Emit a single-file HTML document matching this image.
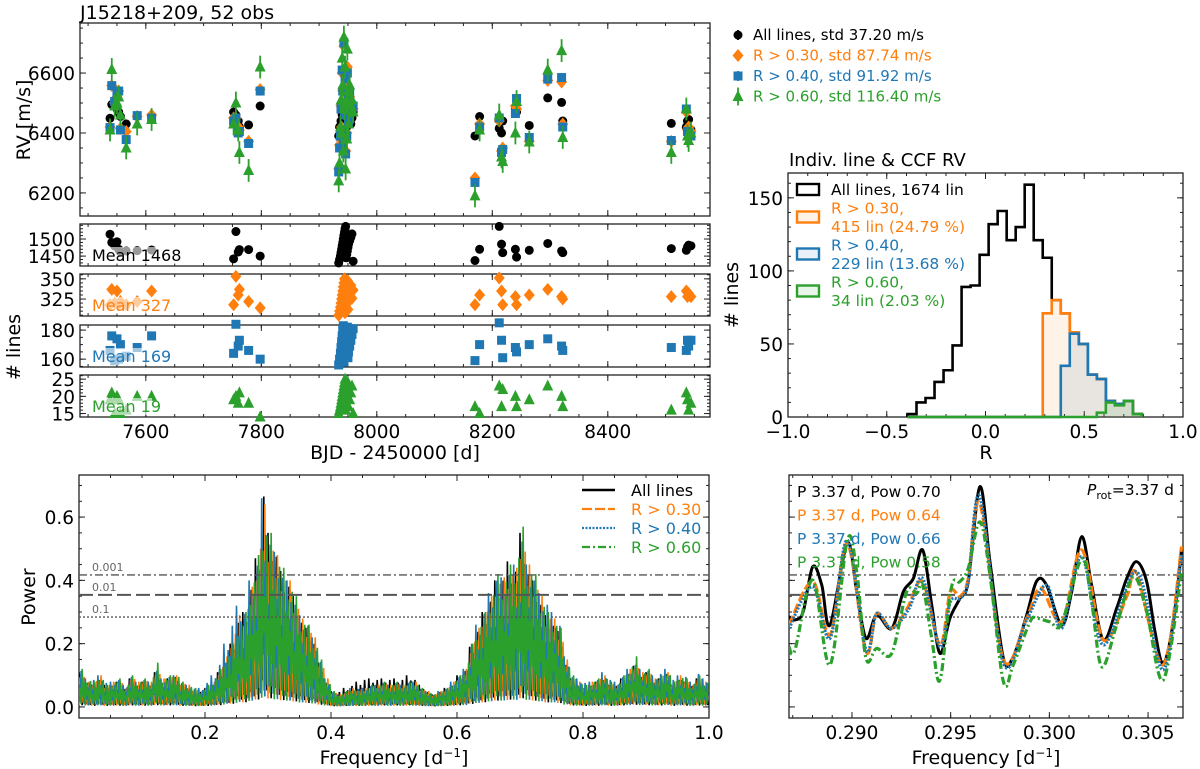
<!DOCTYPE html>
<html><head><meta charset="utf-8"><style>
html,body{margin:0;padding:0;background:#fff;}
svg{display:block;font-family:"DejaVu Sans","Liberation Sans",sans-serif;}
</style></head><body>
<svg id="fig" width="1200" height="769" viewBox="0 0 1200 769" xmlns="http://www.w3.org/2000/svg">
<defs>
<clipPath id="clipRV"><rect x="80" y="23" width="630" height="193"/></clipPath>
<clipPath id="clipPL"><rect x="79" y="475" width="630" height="243"/></clipPath>
<clipPath id="clipPR"><rect x="789" y="475" width="394" height="243"/></clipPath>
</defs>
<text x="80" y="19" font-size="19">J15218+209, 52 obs</text>
<text transform="translate(30,120) rotate(-90)" text-anchor="middle" font-size="19">RV [m/s]</text>
<text transform="translate(20,347) rotate(-90)" text-anchor="middle" font-size="19"># lines</text>
<text x="395" y="459" text-anchor="middle" font-size="19">BJD - 2450000 [d]</text>
<text x="789" y="166" font-size="18">Indiv. line &amp; CCF RV</text>
<text transform="translate(738,295) rotate(-90)" text-anchor="middle" font-size="19"># lines</text>
<text x="986" y="459" text-anchor="middle" font-size="19">R</text>
<text transform="translate(35,597) rotate(-90)" text-anchor="middle" font-size="19">Power</text>
<text x="394" y="764" text-anchor="middle" font-size="19">Frequency [d<tspan dy="-7" font-size="12">−1</tspan><tspan dy="7">]</tspan></text>
<text x="986" y="764" text-anchor="middle" font-size="19">Frequency [d<tspan dy="-7" font-size="12">−1</tspan><tspan dy="7">]</tspan></text>
</svg>
<script>
// ---------- RV data ----------
const obsTime=[7538,7541,7546,7550,7553,7556,7566,7585,7610,
7752,7756,7760,7762,7778,7798,
7934,7935.5,7937,7938,7939,7940,7941,7942,7943,7944,7945,7946,7947,7948,7949,7950,7951,7953,7955,7957,7959,
8170,8178,8212,8216,8218,8240,8242,8264,8296,8320,8322,
8510,8536,8538,8540,8544];
const rvAll=[6449,6495,6490,6480,6470,6455,6430,6455,6455,
6470,6460,6440,6420,6427,6490,
6390,6420,6380,6440,6400,6460,6490,6410,6430,6500,6450,6395,6470,6420,6440,6510,6460,6480,6430,6450,6470,
6390,6455,6415,6400,6440,6480,6470,6425,6517,6502,6440,
6432,6420,6440,6445,6410];
const rvR30=[6420,6558,6500,6520,6540,6415,6405,6455,6460,
6450,6450,6420,6410,6372,6545,
6280,6360,6380,6490,6420,6600,6540,6370,6690,6470,6560,6340,6480,6400,6620,6510,6450,6520,6480,6500,6480,
6250,6430,6440,6340,6350,6490,6480,6372,6575,6570,6430,
6372,6470,6410,6420,6405];
const rvR40=[6418,6558,6505,6530,6540,6410,6378,6458,6450,
6440,6450,6400,6405,6365,6540,
6270,6350,6390,6480,6410,6610,6540,6360,6700,6460,6580,6330,6470,6390,6600,6520,6440,6530,6470,6480,6490,
6235,6420,6450,6335,6345,6465,6515,6385,6580,6585,6420,
6375,6480,6405,6400,6390];
const rvR60=[6410,6612,6490,6500,6520,6460,6350,6430,6445,
6430,6500,6410,6335,6275,6620,
6240,6300,6420,6510,6400,6650,6560,6340,6720,6480,6620,6280,6500,6380,6680,6540,6430,6560,6490,6510,6470,
6190,6410,6460,6320,6305,6400,6505,6370,6610,6675,6385,
6335,6480,6390,6375,6400];
const rvErr=[8,12,12,38];
const nAll=[1514,1490,1480,1492,1470,1462,1465,1466,1468,
1442,1522,1462,1469,1469,1450,
1430,1440,1450,1460,1470,1480,1490,1500,1510,1520,1530,1537,1445,1455,1465,1475,1485,1495,1505,1515,1435,
1437,1470,1537,1485,1460,1470,1447,1467,1487,1465,1460,
1472,1467,1477,1482,1480];
const nR30=[318,337,320,335,318,322,318,322,335,
318,353,330,337,322,314,
305,310,315,320,325,330,335,340,345,350,308,318,328,338,348,312,322,332,342,326,336,
318,330,351,335,318,328,318,330,337,328,325,
328,335,328,332,328];
const nR40=[166,176,159,174,160,170,162,168,176,
164,184,169,173,166,160,
156,160,164,168,172,176,180,183,158,162,166,170,174,178,182,161,165,169,173,177,181,
159,170,185,173,161,168,165,170,174,169,166,
168,166,173,169,173];
const nR60=[19,21,15,20,19,15,16,20,20,
19,20,18,21,18,14,
15,16,17,18,19,20,21,22,23,24,25,16,18,20,22,24,17,19,21,23,15,
17,15,23,17,22,20,17,19,23,20,17,
16,21,19,16,18];
const nMeans=["1468","327","169","19"];
const legendRV=["All lines, std 37.20 m/s","R > 0.30, std 87.74 m/s","R > 0.40, std 91.92 m/s","R > 0.60, std 116.40 m/s"];
// ---------- histogram data ----------
const histStart=-0.395, histWidth=0.04565;
const histAll=[2,10,13,24,32,49,89,90,111,132,141,121,130,159,121,109,80,71,58,50,29,26,11,9,11,2];
const histR30=[0,0,0,0,0,0,0,0,0,0,0,0,0,0,0,71,80,71,58,50,29,26,11,9,11,2];
const histR40=[0,0,0,0,0,0,0,0,0,0,0,0,0,0,0,0,0,35,57,50,29,26,11,9,11,2];
const histR60=[0,0,0,0,0,0,0,0,0,0,0,0,0,0,0,0,0,0,0,0,0,3,10,8,11,2];
const histLegend=[["All lines, 1674 lin"],["R > 0.30,","415 lin (24.79 %)"],["R > 0.40,","229 lin (13.68 %)"],["R > 0.60,","34 lin (2.03 %)"]];
// ---------- periodogram envelope data (max power per 0.01 bin) ----------
const pgAll=[0.11,0.08,0.07,0.09,0.07,0.07,0.08,0.06,0.09,0.07,
0.08,0.07,0.11,0.08,0.09,0.10,0.07,0.06,0.05,0.05,
0.06,0.07,0.11,0.14,0.20,0.28,0.30,0.39,0.47,0.70,
0.55,0.50,0.43,0.40,0.35,0.28,0.25,0.21,0.14,0.08,
0.05,0.05,0.06,0.07,0.08,0.09,0.09,0.09,0.09,0.09,
0.09,0.09,0.10,0.09,0.07,0.05,0.04,0.05,0.06,0.07,
0.10,0.12,0.19,0.25,0.30,0.35,0.40,0.42,0.46,0.45,
0.55,0.44,0.40,0.34,0.29,0.27,0.24,0.14,0.09,0.07,
0.06,0.07,0.08,0.09,0.07,0.07,0.09,0.11,0.13,0.10,
0.11,0.08,0.09,0.11,0.07,0.09,0.08,0.07,0.09,0.07];
const pgR30=[0.11,0.08,0.08,0.10,0.07,0.08,0.09,0.06,0.10,0.08,
0.09,0.08,0.12,0.09,0.10,0.10,0.08,0.07,0.06,0.05,
0.07,0.08,0.12,0.16,0.22,0.29,0.30,0.38,0.47,0.64,
0.54,0.48,0.43,0.40,0.35,0.28,0.26,0.22,0.15,0.09,
0.05,0.04,0.05,0.06,0.06,0.06,0.07,0.07,0.08,0.07,
0.08,0.07,0.08,0.08,0.06,0.05,0.04,0.05,0.06,0.08,
0.10,0.12,0.20,0.25,0.30,0.35,0.41,0.41,0.44,0.44,
0.55,0.45,0.41,0.35,0.30,0.28,0.25,0.15,0.10,0.08,
0.07,0.08,0.09,0.10,0.08,0.07,0.10,0.12,0.14,0.11,
0.12,0.09,0.10,0.11,0.08,0.10,0.09,0.07,0.10,0.08];
const pgR40=[0.12,0.09,0.09,0.10,0.08,0.08,0.09,0.07,0.10,0.08,
0.09,0.08,0.12,0.09,0.10,0.10,0.08,0.07,0.06,0.06,
0.08,0.10,0.14,0.20,0.27,0.32,0.31,0.40,0.47,0.66,
0.54,0.49,0.43,0.40,0.34,0.29,0.27,0.22,0.15,0.09,
0.05,0.04,0.05,0.06,0.06,0.06,0.07,0.07,0.08,0.07,
0.08,0.07,0.08,0.08,0.06,0.05,0.04,0.05,0.06,0.08,
0.10,0.12,0.21,0.26,0.31,0.36,0.42,0.41,0.44,0.45,
0.55,0.45,0.42,0.36,0.34,0.30,0.27,0.16,0.10,0.09,
0.08,0.08,0.09,0.11,0.09,0.08,0.10,0.12,0.14,0.12,
0.12,0.10,0.11,0.12,0.09,0.10,0.10,0.08,0.11,0.09];
const pgR60=[0.12,0.09,0.08,0.10,0.07,0.08,0.09,0.06,0.10,0.08,
0.09,0.08,0.14,0.09,0.10,0.11,0.08,0.07,0.06,0.05,
0.07,0.08,0.12,0.15,0.20,0.26,0.30,0.38,0.48,0.58,
0.55,0.48,0.44,0.40,0.35,0.28,0.26,0.22,0.15,0.09,
0.05,0.04,0.05,0.06,0.05,0.06,0.07,0.07,0.08,0.07,
0.08,0.07,0.08,0.08,0.06,0.05,0.04,0.05,0.06,0.08,
0.10,0.12,0.20,0.25,0.30,0.35,0.42,0.40,0.45,0.46,
0.57,0.45,0.42,0.35,0.30,0.28,0.25,0.15,0.10,0.08,
0.07,0.08,0.09,0.10,0.08,0.07,0.10,0.12,0.16,0.11,
0.12,0.09,0.10,0.12,0.08,0.10,0.09,0.07,0.10,0.08];
const fapLevels=[0.417,0.354,0.284];
const fapLabels=["0.001","0.01","0.1"];
const pgLegend=["All lines","R > 0.30","R > 0.40","R > 0.60"];
// ---------- zoomed periodogram ----------
const zfAll=[0.28681,0.28711,0.28753,0.28801,0.28847,0.28889,0.28976,0.29024,0.29071,0.29125,0.29201,0.29260,0.29311,0.29358,0.29404,0.29446,0.29496,0.29547,0.29589,0.29648,0.29699,0.29767,0.29817,0.29885,0.29936,0.29986,0.30062,0.30113,0.30164,0.30214,0.30273,0.30341,0.30392,0.30442,0.30493,0.30535,0.30577,0.30628,0.30670];
const zpAll=[0.285,0.275,0.301,0.443,0.385,0.259,0.517,0.364,0.217,0.290,0.248,0.364,0.406,0.496,0.322,0.169,0.280,0.343,0.396,0.696,0.459,0.154,0.159,0.290,0.398,0.385,0.259,0.364,0.538,0.385,0.212,0.312,0.406,0.459,0.396,0.238,0.138,0.269,0.501];
const zfR30=[0.28681,0.28801,0.28889,0.28976,0.29071,0.29125,0.29201,0.29280,0.29358,0.29446,0.29498,0.29547,0.29589,0.29648,0.29767,0.29885,0.29956,0.30062,0.30164,0.30273,0.30392,0.30442,0.30577,0.30670];
const zpR30=[0.259,0.396,0.227,0.517,0.175,0.295,0.248,0.312,0.396,0.196,0.364,0.349,0.406,0.643,0.149,0.280,0.375,0.269,0.496,0.212,0.349,0.422,0.133,0.507];
const zfR40=[0.28681,0.28801,0.28889,0.28976,0.29071,0.29125,0.29201,0.29290,0.29358,0.29446,0.29498,0.29547,0.29589,0.29648,0.29767,0.29885,0.29986,0.30062,0.30164,0.30273,0.30442,0.30577,0.30670];
const zpR40=[0.248,0.380,0.217,0.527,0.180,0.295,0.248,0.312,0.406,0.190,0.332,0.343,0.396,0.664,0.138,0.275,0.385,0.248,0.475,0.196,0.427,0.117,0.480];
const zfR60=[0.28681,0.28711,0.28801,0.28889,0.28976,0.29024,0.29071,0.29125,0.29201,0.29277,0.29328,0.29358,0.29404,0.29446,0.29503,0.29547,0.29589,0.29648,0.29699,0.29767,0.29817,0.29902,0.29936,0.30003,0.30062,0.30164,0.30214,0.30265,0.30341,0.30425,0.30493,0.30577,0.30670];
const zpR60=[0.190,0.180,0.401,0.133,0.527,0.427,0.154,0.185,0.169,0.364,0.359,0.385,0.217,0.085,0.375,0.396,0.438,0.585,0.417,0.080,0.133,0.269,0.280,0.269,0.264,0.469,0.332,0.127,0.259,0.411,0.301,0.085,0.427];
const zLabels=["P 3.37 d, Pow 0.70","P 3.37 d, Pow 0.64","P 3.37 d, Pow 0.66","P 3.37 d, Pow 0.58"];

const COL=['#000000','#ff7f0e','#1f77b4','#2ca02c'];
const NS='http://www.w3.org/2000/svg';
const svg=document.getElementById('fig');
const TF=18.5;
function el(tag,attrs,parent){const e=document.createElementNS(NS,tag);for(const k in attrs)e.setAttribute(k,attrs[k]);(parent||svg).appendChild(e);return e;}
function lin(d0,d1,r0,r1){return v=>r0+(v-d0)/(d1-d0)*(r1-r0);}
function fmt(v,dec){return (v<0?'\u2212':'')+Math.abs(v).toFixed(dec);}

function axes(name,x0,y0,x1,y1,sx,sy,xMaj,xMin,yMaj,yMin,xLab,yLab,xDec,yDec){
  const g=el('g',{});
  
  
  const r=el('rect',{x:x0,y:y0,width:x1-x0,height:y1-y0,fill:'none',stroke:'#222','stroke-width':1.3},g);
  
  
  const tick=(xa,ya,xb,yb)=>{const t=el('line',{x1:xa,y1:ya,x2:xb,y2:yb,stroke:'#222','stroke-width':1},g);
    
    };
  xMin.forEach(v=>{const x=sx(v);if(x<x0||x>x1)return;tick(x,y1,x,y1-3);tick(x,y0,x,y0+3);});
  xMaj.forEach(v=>{const x=sx(v);if(x<x0-0.5||x>x1+0.5)return;tick(x,y1,x,y1-6);tick(x,y0,x,y0+6);
    if(xLab){const t=el('text',{x:x,y:y1+21,'text-anchor':'middle','font-size':TF},g);t.textContent=fmt(v,xDec);
      
      }});
  yMin.forEach(v=>{const y=sy(v);if(y<y0||y>y1)return;tick(x0,y,x0+3,y);tick(x1,y,x1-3,y);});
  yMaj.forEach(v=>{const y=sy(v);if(y<y0-0.5||y>y1+0.5)return;tick(x0,y,x0+6,y);tick(x1,y,x1-6,y);
    if(yLab){const t=el('text',{x:x0-5,y:y+7,'text-anchor':'end','font-size':TF},g);t.textContent=fmt(v,yDec);
      
      }});
  return g;
}
function range(a,b,s){const o=[];for(let v=a;v<=b+1e-9;v+=s)o.push(+v.toFixed(6));return o;}

function marker(g,kind,x,y,c,s){
  let m;
  if(kind===0)m=el('circle',{cx:x,cy:y,r:4.5*s,fill:c},g);
  else if(kind===1)m=el('polygon',{points:`${x},${y-6.5*s} ${x+5.5*s},${y} ${x},${y+6.5*s} ${x-5.5*s},${y}`,fill:c},g);
  else if(kind===2)m=el('rect',{x:x-4.5*s,y:y-4.5*s,width:9*s,height:9*s,fill:c},g);
  else m=el('polygon',{points:`${x},${y-6.5*s} ${x+5.5*s},${y+4.5*s} ${x-5.5*s},${y+4.5*s}`,fill:c},g);
  return m;
}

// ===== RV panel =====
const xB=lin(7486,8577,80,710);
const yRV=lin(6123,6767,216,23);
axes('rv-axes',80,23,710,216,xB,yRV,range(7600,8400,200),range(7500,8550,50),[6200,6400,6600],range(6150,6750,50),false,true,0,0);
const rvG=el('g',{'clip-path':'url(#clipRV)'});


[rvAll,rvR30,rvR40,rvR60].forEach((arr,si)=>{
  arr.forEach((v,i)=>{
    const x=xB(obsTime[i]),y=yRV(v);
    const eb=el('line',{x1:x,x2:x,y1:yRV(v-rvErr[si]),y2:yRV(v+rvErr[si]),stroke:COL[si],'stroke-width':1.8},rvG);
    
    
    const m=marker(rvG,si,x,y,COL[si],1);
    
    
  });
});
legendRV.forEach((t,i)=>{
  const y=35+i*20.5;
  const e=el('line',{x1:738,x2:738,y1:y-(i===3?9:5),y2:y+(i===3?9:5),stroke:COL[i],'stroke-width':1.8});
  
  
  const m=marker(svg,i,738,y,COL[i],1);
  
  
  const tx=el('text',{x:753,y:y+5,'font-size':15,fill:COL[i]});
  tx.textContent=t;
  
  
});

// ===== line count subpanels =====
const subs=[
 {y0:224,y1:266,d:[1421,1544],maj:[1450,1500],min:range(1430,1540,10),dat:nAll},
 {y0:274,y1:316,d:[304,356],maj:[325,350],min:range(305,355,5),dat:nR30},
 {y0:325,y1:367,d:[154.6,183.5],maj:[160,180],min:range(155,180,5),dat:nR40},
 {y0:375,y1:417,d:[14,26.2],maj:[15,20,25],min:range(14,26,1),dat:nR60}];
subs.forEach((p,si)=>{
  const sy=lin(p.d[0],p.d[1],p.y1,p.y0);
  axes('nlines-axes-'+si,80,p.y0,710,p.y1,xB,sy,range(7600,8400,200),range(7500,8550,50),p.maj,p.min,si===3,true,0,0);
  const g=el('g',{});
  
  
  p.dat.forEach((v,i)=>{
    const m=marker(g,si,xB(obsTime[i]),sy(v),COL[si],1);
    
    
  });
  const bg=el('rect',{x:90,y:(p.y0+p.y1)/2+2,width:si===0?94:(si===3?62:78),height:17,fill:'#fff','fill-opacity':0.6});
  
  
  const t=el('text',{x:92,y:(p.y0+p.y1)/2+16,'font-size':16,fill:COL[si]});
  t.textContent='Mean '+nMeans[si];
  
  
});

// ===== histogram =====
const xR=lin(-1,1,788,1183);
const yH=lin(0,167,417,173);
axes('hist-axes',788,173,1183,417,xR,yH,[-1,-0.5,0,0.5,1],range(-1,1,0.1),[0,50,100,150],range(0,160,10),true,true,1,0);
const fills=['none','rgba(255,127,14,0.1)','rgba(31,119,180,0.1)','rgba(44,160,44,0.1)'];
[histAll,histR30,histR40,histR60].forEach((h,si)=>{
  let d=`M${xR(histStart)},${yH(0)}`;
  h.forEach((v,i)=>{const a=histStart+i*histWidth;d+=` L${xR(a)},${yH(v)} L${xR(a+histWidth)},${yH(v)}`;});
  d+=` L${xR(histStart+h.length*histWidth)},${yH(0)}`;
  const p=el('path',{d:d,fill:fills[si],stroke:COL[si],'stroke-width':2.6,'stroke-linejoin':'miter'});
  
  
});
let hy=189;
histLegend.forEach((lines,i)=>{
  const boxY=i===0?hy:hy+9;
  const r=el('rect',{x:797,y:boxY-5,width:22,height:11,fill:fills[i]==='none'?'#fff':fills[i],stroke:COL[i],'stroke-width':2.4});
  
  
  lines.forEach((ln,k)=>{
    const t=el('text',{x:831,y:hy+6+k*18.5,'font-size':15.5,fill:COL[i]});
    t.textContent=ln;
    
    
  });
  hy+=lines.length*18.5;
});

// ===== periodogram left =====
const xF=lin(0,1,79,709);
const yP=lin(-0.035,0.733,718,475);
axes('periodogram-axes',79,475,709,718,xF,yP,[0.2,0.4,0.6,0.8,1.0],range(0,1,0.05),[0,0.2,0.4,0.6],range(0,0.7,0.05),true,true,1,1);
const fapStyles=[{da:'8 3 2 3',w:1.4},{da:'14 5',w:2},{da:'2 2',w:1.4}];
function fapLines(x0,x1,labels){
  fapLevels.forEach((v,i)=>{
    const l=el('line',{x1:x0,x2:x1,y1:yP(v),y2:yP(v),stroke:'#555','stroke-width':fapStyles[i].w,'stroke-dasharray':fapStyles[i].da});
    
    
    if(labels){const t=el('text',{x:92,y:yP(v)-4,'font-size':11,fill:'#666'});t.textContent=fapLabels[i];
      
      }
  });
}
const pat=[1,0.25,0.7,0.05,0.85,0.4,0.6,0.12,0.95,0.3,0.5,0.08];
const pgG=el('g',{'clip-path':'url(#clipPL)'});


[pgAll,pgR30,pgR40,pgR60].forEach((arr,si)=>{
  let pts=[];const sub=6;
  for(let i=0;i<arr.length;i++){
    for(let k=0;k<sub;k++){
      const f=(i+k/sub)/arr.length;
      const nx=Math.min(arr.length-1,i+1);
      const v=k<sub/2?arr[i]:arr[i]+(arr[nx]-arr[i])*(k-sub/2)/sub;
      const idx=(i*sub+k+si*3)%pat.length;
      pts.push(`${xF(f).toFixed(2)},${yP(v*pat[idx]).toFixed(2)}`);
    }
  }
  const p=el('polyline',{points:pts.join(' '),fill:'none',stroke:COL[si],'stroke-width':1.6},pgG);
  
  
});
fapLines(79,709,true);
const lstyles=[{da:'none',w:2.6},{da:'10 3',w:2.2},{da:'2 1.5',w:2.2},{da:'8 3 2 3',w:2.2}];
pgLegend.forEach((t,i)=>{
  const y=490+i*19;
  const l=el('line',{x1:582,x2:615,y1:y,y2:y,stroke:COL[i],'stroke-width':lstyles[i].w,'stroke-dasharray':lstyles[i].da});
  
  
  const tx=el('text',{x:631,y:y+6,'font-size':16,fill:COL[i]});
  tx.textContent=t;
  
  
});

// ===== periodogram zoom =====
const xZ=lin(0.28681,0.30677,789,1183);
axes('zoom-periodogram-axes',789,475,1183,718,xZ,yP,[0.29,0.295,0.3,0.305],range(0.287,0.306,0.001),[0,0.2,0.4,0.6],range(0,0.7,0.05),true,false,3,1);
fapLines(789,1183,false);
function smooth(fs,ps){
  const P=fs.map((f,i)=>[xZ(f),yP(ps[i])]);
  let d=`M${P[0][0]},${P[0][1]}`;
  for(let i=0;i<P.length-1;i++){
    const p0=P[Math.max(0,i-1)],p1=P[i],p2=P[i+1],p3=P[Math.min(P.length-1,i+2)];
    const c1=[p1[0]+(p2[0]-p0[0])/6,p1[1]+(p2[1]-p0[1])/6];
    const c2=[p2[0]-(p3[0]-p1[0])/6,p2[1]-(p3[1]-p1[1])/6];
    d+=` C${c1[0].toFixed(2)},${c1[1].toFixed(2)} ${c2[0].toFixed(2)},${c2[1].toFixed(2)} ${p2[0].toFixed(2)},${p2[1].toFixed(2)}`;
  }
  return d;
}
const zg=el('g',{'clip-path':'url(#clipPR)'});


[[zfAll,zpAll],[zfR30,zpR30],[zfR40,zpR40],[zfR60,zpR60]].forEach((s,si)=>{
  const p=el('path',{d:smooth(s[0],s[1]),fill:'none',stroke:COL[si],'stroke-width':si===0?3:3.2,'stroke-dasharray':lstyles[si].da},zg);
  
  
});
zLabels.forEach((t,i)=>{
  const tx=el('text',{x:797,y:497+i*23.5,'font-size':15.5,fill:COL[i]});
  tx.textContent=t;
  
  
});
const pr=el('text',{x:1174,y:495,'text-anchor':'end','font-size':15.5});
pr.innerHTML='<tspan font-style="italic">P</tspan><tspan font-size="11" dy="4">rot</tspan><tspan dy="-4">=3.37 d</tspan>';


</script>
</body></html>
